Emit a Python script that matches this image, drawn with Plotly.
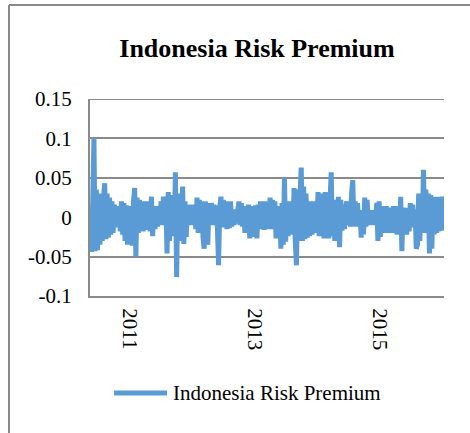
import pandas as pd
import plotly.graph_objects as go

# Weekly Indonesia risk premium, starting mid-May 2010
start_date = "2010-05-14"
premium = [
    0.012, -0.044, 0.020, 0.100, -0.043, 0.035, -0.042, 0.030, -0.035, 0.020,
    -0.030, 0.025, 0.043, -0.028, 0.030, -0.026, 0.025, -0.022, 0.020, -0.020,
    0.016, -0.012, 0.014, -0.013, 0.012, -0.018, 0.020, -0.022, 0.018, -0.030,
    0.015, -0.035, 0.012, -0.030, 0.014, -0.036, 0.020, 0.037, -0.050, 0.025,
    -0.020, 0.022, -0.015, 0.020, -0.018, 0.018, -0.016, 0.020, -0.015, 0.020,
    -0.018, 0.026, -0.024, 0.012, -0.015, 0.014, -0.012, 0.010, -0.010, 0.020,
    -0.010, 0.026, -0.008, 0.020, -0.046, 0.032, -0.030, 0.028, -0.024, 0.025,
    -0.020, 0.057, -0.076, 0.030, -0.030, 0.030, -0.028, 0.039, -0.034, 0.020,
    -0.025, 0.016, -0.010, 0.014, -0.008, 0.016, -0.010, 0.012, -0.015, 0.025,
    -0.020, 0.022, -0.018, 0.020, -0.025, -0.040, 0.020, -0.015, -0.035, 0.018,
    -0.010, 0.018, -0.008, 0.016, -0.010, 0.015, -0.012, -0.061, 0.012, 0.026,
    -0.013, 0.022, -0.012, 0.020, -0.015, 0.018, -0.014, 0.020, -0.012, 0.010,
    -0.010, 0.010, -0.008, 0.008, 0.020, -0.010, 0.018, -0.012, 0.014, -0.020,
    0.014, -0.018, 0.016, -0.027, 0.014, -0.025, 0.012, -0.020, 0.015, -0.027,
    0.016, -0.015, 0.020, -0.014, 0.018, -0.016, 0.020, -0.012, 0.018, -0.015,
    0.025, -0.014, 0.022, -0.015, 0.020, -0.027, 0.014, -0.025, 0.012, -0.040,
    0.018, -0.035, 0.050, -0.031, 0.020, -0.024, 0.020, -0.022, 0.018, -0.020,
    0.037, -0.030, -0.061, 0.035, -0.030, 0.030, 0.063, -0.030, 0.039, -0.028,
    0.030, -0.026, 0.020, -0.024, 0.020, -0.022, 0.018, -0.020, 0.020, -0.018,
    0.032, -0.024, 0.030, -0.022, 0.028, -0.027, 0.032, -0.025, 0.030, -0.027,
    0.020, 0.057, -0.024, 0.022, -0.030, 0.018, -0.028, 0.026, -0.038, 0.022,
    -0.017, 0.014, -0.015, 0.012, 0.020, -0.010, 0.016, -0.012, 0.030, 0.047,
    -0.012, 0.020, -0.010, 0.018, -0.012, 0.009, -0.026, 0.008, -0.022, 0.025,
    -0.012, 0.022, -0.010, 0.009, -0.008, 0.008, -0.010, 0.009, -0.008, 0.018,
    -0.030, 0.020, -0.025, 0.014, -0.018, 0.012, -0.020, 0.014, -0.016, 0.010,
    -0.020, 0.012, -0.013, 0.014, -0.020, 0.012, -0.022, 0.014, -0.020, 0.026,
    -0.043, 0.012, -0.020, 0.010, -0.022, 0.012, -0.018, 0.018, -0.013, 0.016,
    -0.012, 0.010, -0.040, -0.035, 0.030, -0.030, 0.028, -0.020, 0.060, -0.018,
    0.035, -0.020, 0.030, -0.046, 0.028, -0.040, 0.026, -0.022, 0.026, -0.020,
    0.026, -0.018, 0.024, -0.017, 0.026, -0.017,
]
dates = pd.date_range(start_date, periods=len(premium), freq="W-FRI")

y_ticks = [-0.1, -0.05, 0, 0.05, 0.1, 0.15]
y_tick_text = ["-0.1", "-0.05", "0", "0.05", "0.1", "0.15"]
x_ticks = ["2011-01-01", "2013-01-01", "2015-01-01"]
x_tick_text = ["2011", "2013", "2015"]

series_name = "Indonesia Risk Premium"
title_text = "Indonesia Risk Premium"

W, H = 470, 433
L, R, T, B = 90, 26, 99, 137
pw, ph = W - L - R, H - T - B

def px_x(v):
    return (v - L) / pw

def px_y(v):
    return (H - B - v) / ph

BLUE = "#5B9BD5"
GRID = "#8A8A8A"
FONT = "Liberation Serif"

fig = go.Figure()
fig.add_trace(go.Scatter(
    x=dates, y=premium, mode="lines", name=series_name,
    line=dict(color=BLUE, width=5, simplify=False), showlegend=False,
))

fig.update_layout(
    width=W, height=H,
    margin=dict(l=L, r=R, t=T, b=B),
    paper_bgcolor="white", plot_bgcolor="white",
    font=dict(family=FONT, size=21, color="black"),
    title=dict(text="<b>" + title_text + "</b>", font=dict(family=FONT, size=26),
               x=257 / W, xref="container", xanchor="center",
               y=1 - 48 / H, yref="container", yanchor="middle"),
    xaxis=dict(
        type="date", range=["2010-05-12", "2016-01-09"],
        tickvals=x_ticks, ticktext=x_tick_text, tickangle=90,
        showgrid=False, showline=True, linecolor=GRID, linewidth=2,
        ticks="", ticklabelstandoff=6,
    ),
    yaxis=dict(
        range=[y_ticks[0], y_ticks[-1]], tickvals=y_ticks, ticktext=y_tick_text,
        showgrid=True, gridcolor=GRID, gridwidth=2,
        zeroline=True, zerolinecolor=GRID, zerolinewidth=2,
        showline=True, linecolor=GRID, linewidth=2,
        ticks="", ticklabelstandoff=12,
    ),
    showlegend=False,
)

# top gridline sits on the range edge, so draw it explicitly
fig.add_shape(type="line", xref="paper", yref="y", layer="below",
              x0=0, x1=1, y0=y_ticks[-1], y1=y_ticks[-1],
              line=dict(color=GRID, width=2))

# legend entry
fig.add_shape(type="line", xref="paper", yref="paper",
              x0=px_x(114), x1=px_x(167), y0=px_y(393), y1=px_y(393),
              line=dict(color=BLUE, width=5))
fig.add_annotation(text=series_name, xref="paper", yref="paper",
                   x=px_x(171), y=px_y(393), xanchor="left", yanchor="middle",
                   showarrow=False, font=dict(family=FONT, size=21))

# chart frame
fig.add_shape(type="line", xref="paper", yref="paper",
              x0=px_x(9), x1=px_x(W + 5), y0=px_y(5), y1=px_y(5),
              line=dict(color=GRID, width=2))
fig.add_shape(type="line", xref="paper", yref="paper",
              x0=px_x(9), x1=px_x(9), y0=px_y(5), y1=px_y(H + 5),
              line=dict(color=GRID, width=2))

fig.write_html("out.html")
